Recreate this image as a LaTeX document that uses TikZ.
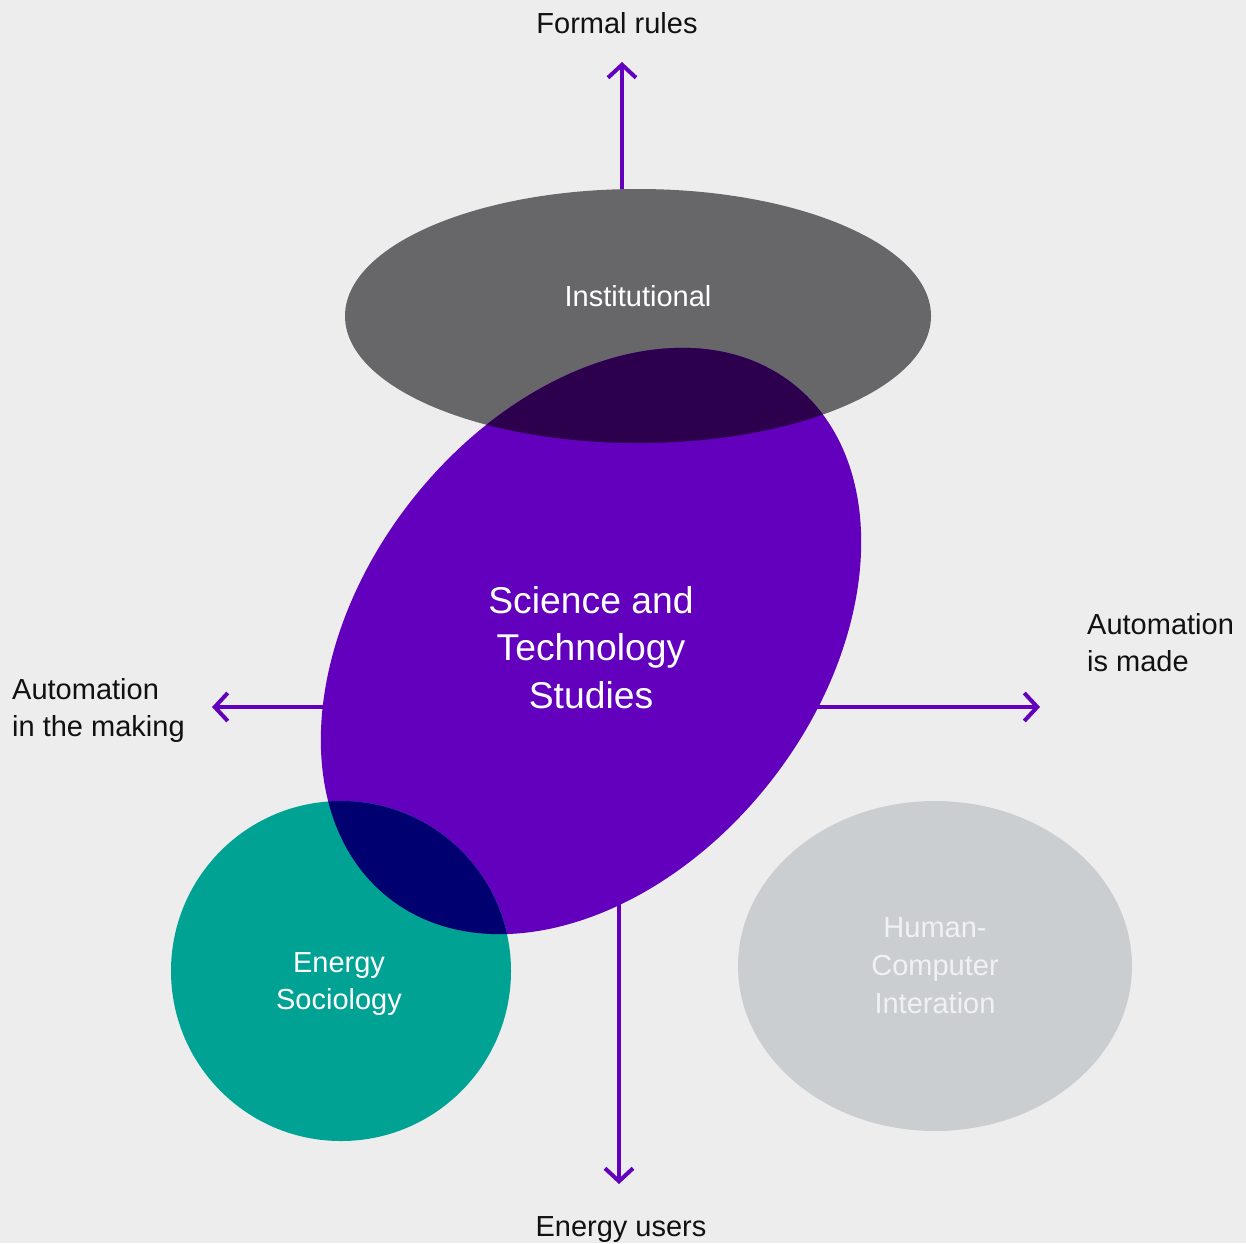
\documentclass[tikz,border=0pt]{standalone}
\usepackage{fontspec}
\setmainfont{Liberation Sans}
\usetikzlibrary{arrows.meta}
\definecolor{bg}{HTML}{EDEDED}
\definecolor{instc}{HTML}{67676A}
\definecolor{stsc}{HTML}{6200BE}
\definecolor{darkov}{HTML}{2C004C}
\definecolor{tealc}{HTML}{00A293}
\definecolor{navyc}{HTML}{000070}
\definecolor{hcic}{HTML}{CBCED1}
\definecolor{hcitext}{HTML}{F0F1F2}
\definecolor{arrowc}{HTML}{6200BE}
\definecolor{txt}{HTML}{111111}
\begin{document}
\begin{tikzpicture}[x=1pt,y=-1pt,
  lbl/.style={font=\fontsize{29}{37}\selectfont, text=txt, inner sep=0pt},
  stslbl/.style={font=\fontsize{37.3}{47.5}\selectfont, text=white, inner sep=0pt},
  arr/.style={draw=arrowc, line width=4pt, -{Straight Barb[length=13pt,width=28pt]}},
  stsshape/.style={rotate around={51.8:(591,641)}}]
\useasboundingbox (0,0) rectangle (1246,1243);
\fill[bg] (0,0) rectangle (1246,1243);
% arrow coordinates
\coordinate (up0) at (622,250); \coordinate (up1) at (622,62);
\coordinate (dn0) at (619,850); \coordinate (dn1) at (619,1184);
\coordinate (lf0) at (400,707); \coordinate (lf1) at (212,707);
\coordinate (rt0) at (780,707); \coordinate (rt1) at (1040,707);
\draw[arr] (up0) -- (up1);
\draw[arr] (dn0) -- (dn1);
\draw[arr] (lf0) -- (lf1);
\draw[arr] (rt0) -- (rt1);
% shapes
\fill[instc] (638,316) ellipse [x radius=293pt, y radius=127pt];
\fill[stsc, stsshape] (591,641) ellipse [x radius=327pt, y radius=228pt];
\begin{scope}
  \clip (638,316) ellipse [x radius=293pt, y radius=127pt];
  \fill[darkov, stsshape] (591,641) ellipse [x radius=327pt, y radius=228pt];
\end{scope}
\fill[tealc] (341,971) circle [radius=170pt];
\begin{scope}
  \clip (341,971) circle [radius=170pt];
  \fill[navyc, stsshape] (591,641) ellipse [x radius=327pt, y radius=228pt];
\end{scope}
\fill[hcic] (935,966) ellipse [x radius=197pt, y radius=165pt];
% labels (base anchor = baseline of the last line)
\node[lbl, anchor=base] (formal) at (617,33) {Formal rules};
\node[lbl, anchor=base] (users) at (621,1236) {Energy users};
\node[lbl, anchor=base west, align=left] (making) at (12,736) {Automation\\in the making};
\node[lbl, anchor=base west, align=left] (made) at (1087,671) {Automation\\is made};
\node[lbl, anchor=base, text=white] (instl) at (638,306) {Institutional};
\node[stslbl, anchor=base, align=center] (sts) at (591,708) {Science and\\Technology\\Studies};
\node[lbl, anchor=base, align=center, text=white] (es) at (339,1009) {Energy\\Sociology};
\node[lbl, anchor=base, align=center, text=hcitext, font=\fontsize{29}{38}\selectfont] (hci) at (935,1013) {Human-\\Computer\\Interation};
\end{tikzpicture}
\end{document}
